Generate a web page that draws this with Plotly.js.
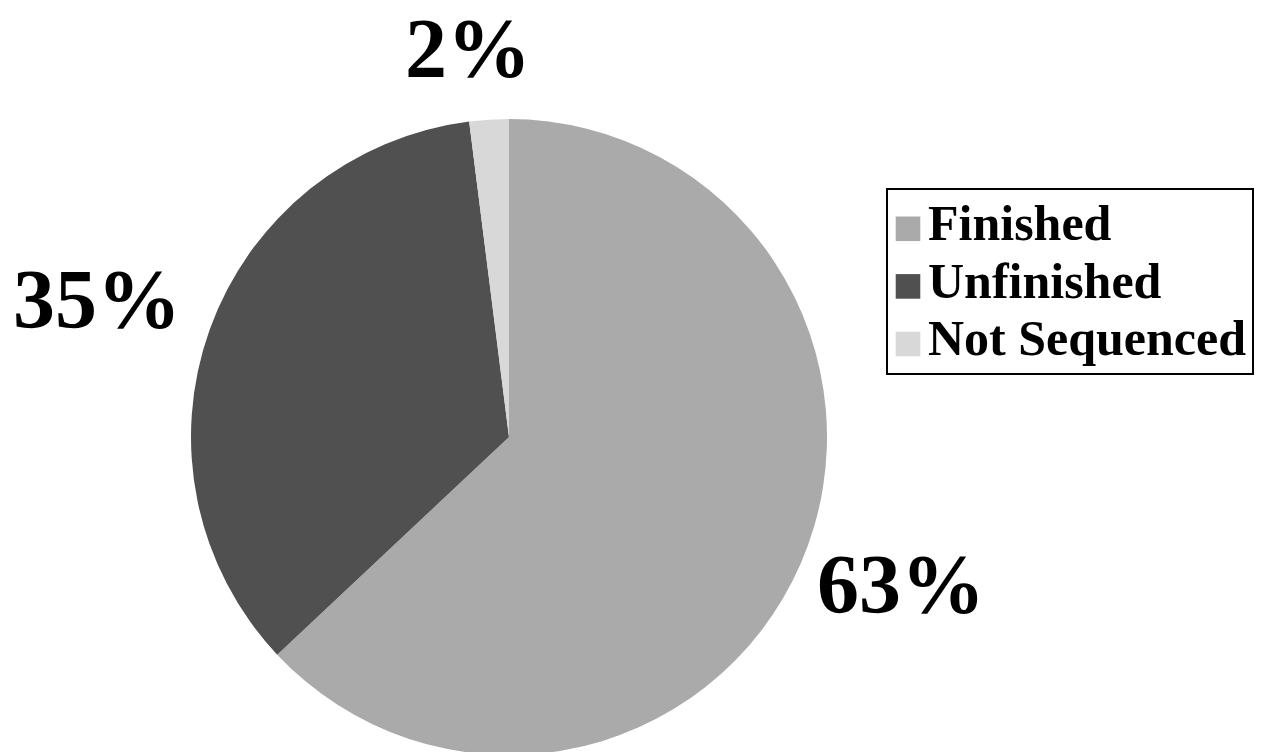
<!DOCTYPE html>
<html>
<head>
<meta charset="utf-8">
<script src="https://cdn.plot.ly/plotly-3.0.1.min.js"></script>
<style>
html,body{margin:0;padding:0;overflow:hidden;background:#fff;width:1268px;height:752px;}
#chart{width:1268px;height:758px;}
</style>
</head>
<body>
<div id="chart"></div>
<script>
const categories = ["Finished", "Unfinished", "Not Sequenced"];
const values = [63, 35, 2];
const colors = ["#aaaaaa", "#505050", "#d8d8d8"];
const percentLabels = values.map(v => v + "%");

const W = 1268, H = 758;
const SERIF = "Liberation Serif";
const labelPos = [
  {x: 901, y: 584},
  {x: 97, y: 299},
  {x: 468, y: 49}
];

const trace = {
  type: "pie",
  labels: categories.map(c => '<span style="font-size:50px">' + c + '</span>'),
  values: values,
  marker: {colors: colors, line: {width: 0}},
  sort: false,
  direction: "clockwise",
  rotation: 0,
  textinfo: "none",
  hoverinfo: "label+percent",
  domain: {x: [191/W, 827/W], y: [(H-755)/H, (H-119)/H]}
};

const annotations = percentLabels.map((t, i) => ({
  text: "<b>" + t + "</b>",
  xref: "paper", yref: "paper",
  x: labelPos[i].x / W, y: 1 - labelPos[i].y / H,
  xanchor: "center", yanchor: "middle",
  showarrow: false,
  font: {family: SERIF, size: 84, color: "#000"}
}));

const layout = {
  width: W, height: H,
  margin: {l: 0, r: 0, t: 0, b: 0},
  paper_bgcolor: "#fff",
  showlegend: true,
  legend: {
    x: 886/W, y: 1 - 188/H, xanchor: "left", yanchor: "top",
    bordercolor: "#000", borderwidth: 2, bgcolor: "#fff",
    font: {family: SERIF, size: 42, color: "#000", weight: "bold"},
    traceorder: "normal"
  },
  font: {family: SERIF},
  annotations: annotations
};

Plotly.newPlot("chart", [trace], layout, {displayModeBar: false, staticPlot: true}).then(gd => {
  gd.querySelectorAll(".legendpoints path").forEach(p => {
    const t = p.getAttribute("transform") || "";
    p.setAttribute("transform", t + " translate(0,5) scale(2.05)");
    p.style.strokeWidth = "0";
  });
});
</script>
</body>
</html>
